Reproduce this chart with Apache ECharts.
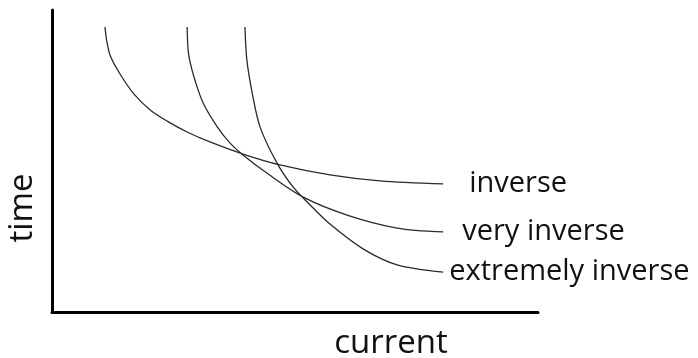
<!DOCTYPE html>
<html>
<head>
<meta charset="utf-8">
<script src="https://cdn.jsdelivr.net/npm/echarts@6/dist/echarts.min.js"></script>
<style>
  html, body { margin: 0; padding: 0; background: #fff; }
  #main { width: 698px; height: 358px; }
</style>
</head>
<body>
<div id="main"></div>
<script>
// curves, in arbitrary units (current 0-10, time 0-10)
const inverseCurve = [
    [1.09, 9.44], [1.13, 8.94], [1.21, 8.44], [1.40, 7.88], [1.67, 7.25],
    [2.02, 6.69], [2.37, 6.32], [2.78, 5.96], [3.25, 5.63], [3.93, 5.23],
    [4.69, 4.87], [5.72, 4.54], [6.75, 4.34], [8.05, 4.24]
];
const veryInverseCurve = [
    [2.78, 9.44], [2.80, 8.68], [2.84, 8.28], [2.94, 7.68], [3.11, 6.92],
    [3.40, 6.13], [3.66, 5.60], [3.93, 5.20], [4.42, 4.60], [5.16, 3.81],
    [6.07, 3.21], [7.10, 2.78], [8.05, 2.65]
];
const extremelyInverseCurve = [
    [3.97, 9.44], [4.01, 8.34], [4.12, 7.25], [4.28, 6.13], [4.63, 4.93],
    [4.96, 4.14], [5.27, 3.61], [5.72, 2.91], [6.40, 2.09], [7.10, 1.56],
    [8.05, 1.32]
];
const curveNames = ['inverse', 'very inverse', 'extremely inverse'];
const labelOffsets = [[18, 0], [11, 0], [-2, 0]];

const chartDom = document.getElementById('main');
const myChart = echarts.init(chartDom);
let option;

const curves = [inverseCurve, veryInverseCurve, extremelyInverseCurve];

option = {
    animation: false,
    grid: {
        left: 52,
        right: 160,
        top: 10,
        bottom: 46,
        outerBoundsMode: 'none'
    },
    xAxis: {
        type: 'value',
        min: 0,
        max: 10,
        name: 'current',
        nameLocation: 'middle',
        nameGap: 15,
        nameTextStyle: {
            fontFamily: 'Open Sans',
            fontSize: 33,
            color: '#111',
            padding: [0, 0, 0, 192]
        },
        axisLine: {lineStyle: {color: '#000', width: 3}},
        axisTick: {show: false},
        axisLabel: {show: false},
        splitLine: {show: false}
    },
    yAxis: {
        type: 'value',
        min: 0,
        max: 10,
        name: 'time',
        nameLocation: 'middle',
        nameGap: 13,
        nameTextStyle: {
            fontFamily: 'Open Sans',
            fontSize: 33,
            color: '#111',
            padding: [0, 94, 0, 0]
        },
        axisLine: {show: true, lineStyle: {color: '#000', width: 3}},
        axisTick: {show: false},
        axisLabel: {show: false},
        splitLine: {show: false}
    },
    series: curves.map((data, i) => ({
        name: curveNames[i],
        type: 'line',
        data: data,
        smooth: 0.3,
        showSymbol: false,
        lineStyle: {color: '#2a2a2a', width: 1.3},
        endLabel: {
            show: true,
            formatter: curveNames[i],
            offset: labelOffsets[i],
            fontFamily: 'Open Sans',
            fontSize: 29,
            color: '#111'
        }
    }))
};

option && myChart.setOption(option);
</script>
</body>
</html>
